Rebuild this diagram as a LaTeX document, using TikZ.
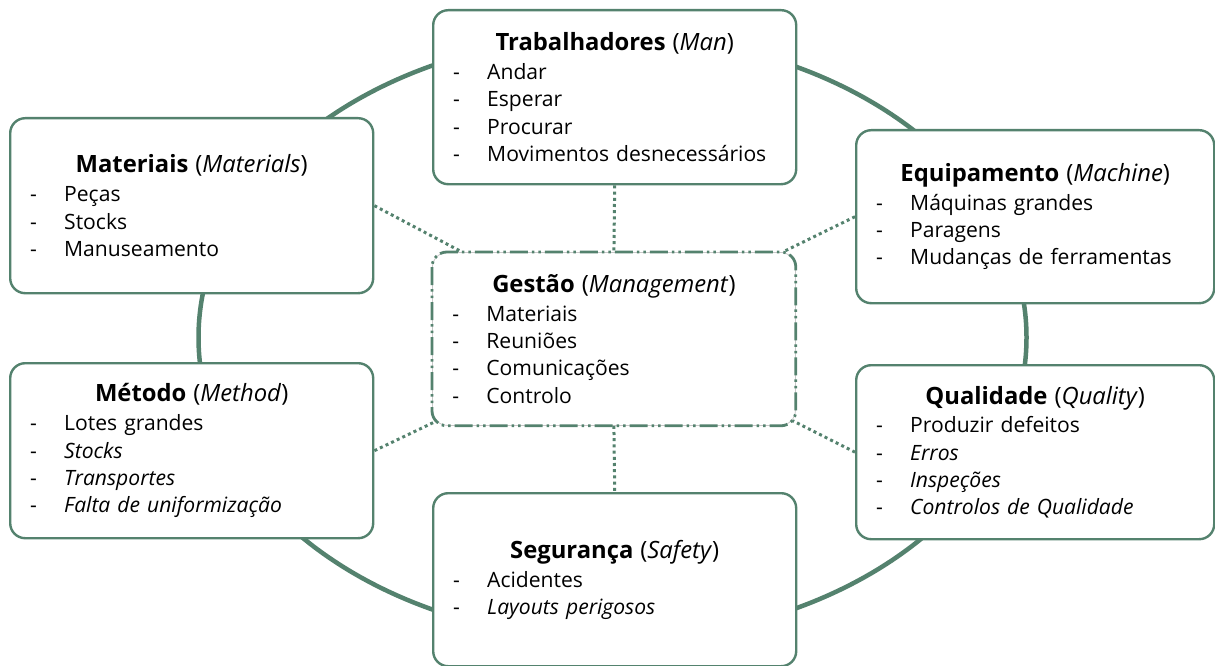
\documentclass[tikz,border=0pt]{standalone}
\usepackage{fontspec}
\setmainfont{Open Sans}
\usetikzlibrary{calc}
\definecolor{sage}{RGB}{84,130,110}
\definecolor{rimgrey}{RGB}{200,200,200}

% box heading: bold name with italic English term, centred on the box
\newcommand{\heading}[2]{{\fontsize{23.8}{28}\selectfont\makebox[\linewidth][c]{\textbf{#1} (\textit{#2})}\par}\vspace{1.5pt}}
% one listed cause, with a hanging dash
\newcommand{\bul}[1]{\makebox[34pt][l]{-}#1\par}

\begin{document}
\begin{tikzpicture}[x=1pt,y=-1pt,
  card/.style 2 args={draw=sage, line width=2.4pt, rounded corners=15pt, fill=white,
    inner xsep=20pt, inner ysep=0pt, text width={#1-40pt}, minimum height=#2,
    align=left, anchor=north west,
    font=\fontsize{21.1}{27.3}\selectfont},
  hub/.style 2 args={draw=rimgrey, line width=0.8pt, rounded corners=15pt, fill=white,
    inner xsep=20pt, inner ysep=0pt, text width={#1-40pt}, minimum height=#2,
    align=left, anchor=north west,
    font=\fontsize{21.1}{27.3}\selectfont},
  hubrim/.style={draw=sage, line width=2.8pt, rounded corners=15pt,
    dash pattern=on 18pt off 4pt on 2.5pt off 4pt on 2.5pt off 4pt},
  link/.style={draw=sage, line width=3pt, dash pattern=on 3pt off 3.2pt},
  ring/.style={draw=sage, line width=4.5pt}
]
\useasboundingbox (0,0) rectangle (1215,666);

% outer cycle behind the boxes
\draw[ring] (612.5,337.5) ellipse [x radius=414, y radius=302];

% the six surrounding boxes
\node[card={363pt}{174pt}] (man) at (432,9) {%
  \heading{Trabalhadores}{Man}
  \bul{Andar}
  \bul{Esperar}
  \bul{Procurar}
  \bul{Movimentos desnecessários}};

\node[card={363pt}{175pt}] (mat) at (9,117) {%
  \heading{Materiais}{Materials}
  \bul{Peças}
  \bul{Stocks}
  \bul{Manuseamento}};

\node[card={358pt}{173pt}] (mac) at (855,129) {%
  \heading{Equipamento}{Machine}
  \bul{Máquinas grandes}
  \bul{Paragens}
  \bul{Mudanças de ferramentas}};

\node[card={363pt}{175pt}] (met) at (9,362) {%
  \heading{Método}{Method}
  \bul{Lotes grandes}
  \bul{\textit{Stocks}}
  \bul{\textit{Transportes}}
  \bul{\textit{Falta de uniformização}}};

\node[card={358pt}{174pt}] (qua) at (855,364) {%
  \heading{Qualidade}{Quality}
  \bul{Produzir defeitos}
  \bul{\textit{Erros}}
  \bul{\textit{Inspeções}}
  \bul{\textit{Controlos de Qualidade}}};

\node[card={363pt}{173pt}] (saf) at (432,492) {%
  \heading{Segurança}{Safety}
  \bul{Acidentes}
  \bul{\textit{Layouts perigosos}}};

% central management box
\node[hub={363pt}{173pt}] (mgt) at (432,252) {%
  \heading{Gestão}{Management}
  \bul{Materiais}
  \bul{Reuniões}
  \bul{Comunicações}
  \bul{Controlo}};
\draw[hubrim] (mgt.north west) rectangle (mgt.south east);

% dotted links from the hub to each box
\draw[link] (man.south) -- (mgt.north);
\draw[link] (mgt.south) -- (saf.north);
\draw[link] (mat.east) -- ($(mgt.north west)+(30,0)$);
\draw[link] (mac.west) -- ($(mgt.north east)+(-11,-1)$);
\draw[link] (met.east) -- ($(mgt.south west)+(5,-5)$);
\draw[link] (qua.west) -- ($(mgt.south east)+(-3,-5)$);
\end{tikzpicture}
\end{document}
